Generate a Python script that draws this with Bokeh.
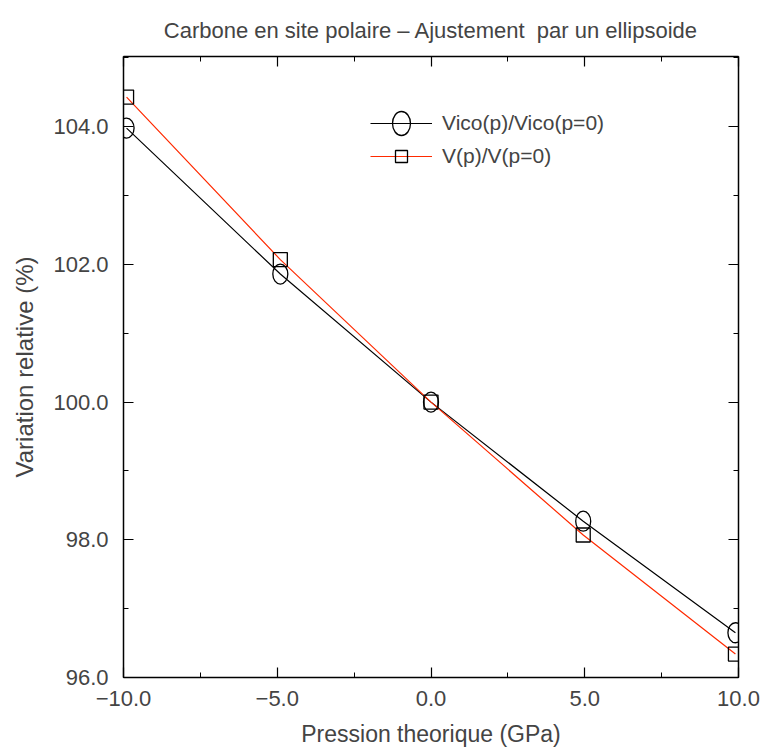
from bokeh.plotting import figure
from bokeh.models import (Range1d, LinearAxis, SingleIntervalTicker,
                          CustomJSTickFormatter, Legend, LegendItem)
from bokeh.embed import file_html
from bokeh.resources import INLINE

# ---- data ----
pression = [-9.9, -4.9, 0.0, 4.95, 9.9]          # GPa
vico_rel = [103.98, 101.86, 100.0, 98.27, 96.65]  # Vico(p)/Vico(p=0) in %
vol_rel = [104.43, 102.07, 100.0, 98.07, 96.34]   # V(p)/V(p=0) in %

title_text = "Carbone en site polaire \u2013 Ajustement\u00a0 par un ellipsoide"
x_label = "Pression theorique (GPa)"
y_label = "Variation relative (%)"
series_labels = ["Vico(p)/Vico(p=0)", "V(p)/V(p=0)"]

FONT = "Liberation Sans, Arial, sans-serif"
RED = "#ff2a00"

p = figure(width=764, height=749, output_backend="svg", toolbar_location=None,
           x_range=Range1d(-10, 10), y_range=Range1d(96, 105.02),
           x_axis_type=None, y_axis_type=None,
           min_border_left=123, min_border_right=26,
           min_border_top=56, min_border_bottom=72)
p.outline_line_color = None
p.background_fill_color = "white"
p.border_fill_color = "white"

p.title.text = title_text
p.title.align = "center"
p.title.text_font = FONT
p.title.text_font_size = "22px"
p.title.text_font_style = "normal"
p.title.standoff = 27

fmt = CustomJSTickFormatter(code="return tick.toFixed(1).replace('-', '\u2212');")
blank = CustomJSTickFormatter(code="return '';")

def make_axis(ticker, formatter):
    return LinearAxis(ticker=ticker, formatter=formatter,
                      major_tick_in=10, major_tick_out=0,
                      minor_tick_in=5, minor_tick_out=0,
                      axis_line_width=1.5, major_tick_line_width=1.2,
                      minor_tick_line_width=1.0,
                      major_label_text_font=FONT,
                      major_label_text_font_size="22px",
                      axis_label_text_font_style="normal")

xt = SingleIntervalTicker(interval=5, num_minor_ticks=2)
yt = SingleIntervalTicker(interval=2, num_minor_ticks=2)

xb = make_axis(xt, fmt)
xb.axis_label = x_label
xb.axis_label_text_font = FONT
xb.axis_label_text_font_size = "23px"
xb.major_label_standoff = 13
xb.axis_label_standoff = 12
p.add_layout(xb, "below")

yl = make_axis(yt, fmt)
yl.axis_label = y_label
yl.axis_label_text_font = FONT
yl.axis_label_text_font_size = "24px"
yl.major_label_standoff = 15
yl.axis_label_standoff = 12
p.add_layout(yl, "left")

xa = make_axis(SingleIntervalTicker(interval=5, num_minor_ticks=2), blank)
xa.major_label_standoff = 0
xa.major_label_text_font_size = "0px"
p.add_layout(xa, "above")

yr = make_axis(SingleIntervalTicker(interval=2, num_minor_ticks=2), blank)
yr.major_label_standoff = 0
yr.major_label_text_font_size = "0px"
p.add_layout(yr, "right")

# series 1: circles (ellipses), black line
l1 = p.line(pression, vico_rel, line_color="black", line_width=1.2)
c1 = p.ellipse(pression, vico_rel, width=15, height=20,
               width_units="screen", height_units="screen",
               fill_color=None, line_color="black", line_width=1.3)

# series 2: squares, red line
l2 = p.line(pression, vol_rel, line_color=RED, line_width=1.2)
s2 = p.scatter(pression, vol_rel, marker="square", size=14,
               fill_color=None, line_color="black", line_width=1.3)

legend = Legend(items=[LegendItem(label=series_labels[0], renderers=[l1, c1]),
                       LegendItem(label=series_labels[1], renderers=[l2, s2])],
                location=(247, 506), glyph_width=62, glyph_height=30,
                label_height=30, spacing=3, padding=0, margin=0,
                border_line_color=None, background_fill_alpha=0,
                label_text_font=FONT, label_text_font_size="21px",
                label_standoff=10)
p.add_layout(legend)

open("out.html", "w").write(file_html(p, INLINE))
